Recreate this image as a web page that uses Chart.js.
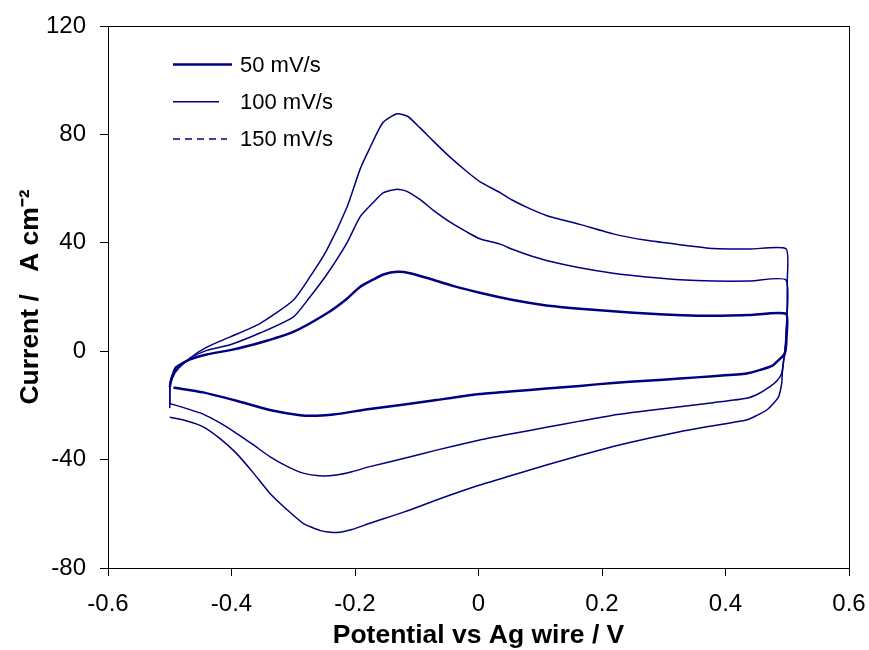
<!DOCTYPE html>
<html>
<head>
<meta charset="utf-8">
<script src="https://cdn.jsdelivr.net/npm/chart.js@4.4.1/dist/chart.umd.min.js"></script>
<style>
  body { margin: 0; background: #fff; }
</style>
</head>
<body>
<canvas id="cv-chart" width="869" height="650"></canvas>
<script>
// cyclic voltammograms (anodic sweep -0.5 -> 0.5 V, then back)
const potential50 = [-0.5, -0.497, -0.49, -0.467, -0.44, -0.402, -0.354, -0.3, -0.246, -0.215, -0.192, -0.17, -0.154, -0.132, -0.111, -0.08, -0.04, 0.002, 0.056, 0.11, 0.164, 0.218, 0.272, 0.33, 0.38, 0.44, 0.498,
  0.499, 0.497, 0.494, 0.485, 0.477, 0.455, 0.434, 0.38, 0.326, 0.272, 0.218, 0.164, 0.11, 0.056, 0.002, -0.068, -0.12, -0.176, -0.235, -0.262, -0.289, -0.338, -0.392, -0.446, -0.494];
const current50 = [-13.3, -10, -6, -3, -1.2, 0.4, 3.1, 7.1, 13.9, 19, 23.7, 26.5, 28.3, 29.3, 28.8, 26.8, 24, 21.6, 18.9, 16.9, 15.7, 14.7, 13.9, 13.3, 13.1, 13.4, 13.8,
  6, 0, -1.5, -3.5, -5.2, -7, -8.2, -9.2, -10.1, -10.9, -11.7, -12.8, -13.8, -14.8, -15.8, -18, -19.7, -21.3, -23.4, -23.8, -23.6, -21.7, -18.3, -15.2, -13.4];

const potential100 = [-0.5, -0.499, -0.49, -0.467, -0.44, -0.402, -0.354, -0.3, -0.273, -0.246, -0.213, -0.192, -0.17, -0.154, -0.132, -0.116, -0.095, -0.073, -0.045, -0.019, 0.002, 0.035, 0.056, 0.083, 0.11, 0.164, 0.218, 0.272, 0.326, 0.38, 0.44, 0.498,
  0.499, 0.497, 0.494, 0.491, 0.483, 0.472, 0.455, 0.434, 0.38, 0.326, 0.272, 0.218, 0.164, 0.11, 0.056, 0.002, -0.068, -0.12, -0.176, -0.205, -0.23, -0.258, -0.284, -0.31, -0.338, -0.365, -0.392, -0.42, -0.446, -0.475, -0.5];
const current100 = [-19.3, -11, -7, -2.6, 0.3, 2.4, 6.7, 12.6, 20, 28.2, 40, 49.5, 55, 58.5, 59.8, 59, 56, 52, 47.5, 44, 41.5, 39.5, 37.5, 35.3, 33.5, 30.8, 28.8, 27.4, 26.4, 25.9, 25.9, 26.3,
  10, 0, -3.5, -8.2, -11, -13.1, -15.5, -17.4, -19, -20.5, -22, -23.6, -25.8, -28.1, -30.4, -32.8, -36.5, -39.5, -42.6, -44.5, -45.7, -46, -45, -42.5, -38.9, -34.5, -30.3, -26.3, -23.2, -21, -19.3];

const potential150 = [-0.5, -0.499, -0.49, -0.467, -0.44, -0.402, -0.354, -0.3, -0.273, -0.246, -0.213, -0.192, -0.178, -0.155, -0.132, -0.115, -0.095, -0.074, -0.046, -0.02, 0.002, 0.035, 0.056, 0.083, 0.11, 0.164, 0.218, 0.272, 0.326, 0.38, 0.44, 0.498,
  0.5, 0.499, 0.496, 0.492, 0.491, 0.486, 0.476, 0.467, 0.45, 0.434, 0.38, 0.326, 0.272, 0.218, 0.164, 0.11, 0.056, 0.002, -0.068, -0.12, -0.176, -0.205, -0.23, -0.256, -0.284, -0.31, -0.338, -0.365, -0.392, -0.42, -0.446, -0.475, -0.5];
const current150 = [-21, -12, -7.5, -2.5, 1.5, 5.3, 10.2, 18.8, 27.4, 37.2, 53.1, 67, 74, 84.3, 87.6, 86.7, 82.5, 77.7, 71.6, 66.5, 62.6, 58.5, 55.6, 52.6, 50.1, 46.8, 43.3, 40.9, 39.3, 37.9, 37.7, 37.8,
  26, 10, 0, -8, -11.9, -16.8, -19.7, -21.7, -23.8, -25.4, -27.5, -29.7, -32.3, -35.2, -38.5, -42, -45.7, -49.4, -54.9, -59.3, -63.5, -65.8, -66.9, -66.2, -63.5, -58.5, -52.4, -44.8, -37.7, -32, -27.9, -25.6, -24.4];

const seriesNames = ['50 mV/s', '100 mV/s', '150 mV/s'];

const lineColor = '#000080';
const fontFamily = '"Liberation Sans", Arial, sans-serif';

function toPoints(xs, ys) {
  return xs.map((x, i) => ({ x: x, y: ys[i] }));
}

// legend drawn inside the plot like the original
const innerLegend = {
  id: 'innerLegend',
  afterDraw(chart) {
    const ctx = chart.ctx;
    const lens = [59, 46, 54];
    ctx.save();
    ctx.font = '22px ' + fontFamily;
    ctx.textBaseline = 'middle';
    chart.data.datasets.forEach((ds, i) => {
      const y = 64.5 + i * 37.3;
      ctx.strokeStyle = ds.borderColor;
      ctx.lineWidth = ds.borderWidth;
      ctx.setLineDash(ds.legendDash || []);
      ctx.beginPath();
      ctx.moveTo(173, y);
      ctx.lineTo(173 + lens[i], y);
      ctx.stroke();
      ctx.setLineDash([]);
      ctx.fillStyle = '#000';
      ctx.fillText(ds.label, 240, y + 1);
    });
    ctx.restore();
  }
};

const plotFrame = {
  id: 'plotFrame',
  afterDraw(chart) {
    const a = chart.chartArea;
    const ctx = chart.ctx;
    ctx.save();
    ctx.strokeStyle = '#000';
    ctx.lineWidth = 1;
    ctx.strokeRect(Math.round(a.left) + 0.5, Math.round(a.top) + 0.5, Math.round(a.right - a.left), Math.round(a.bottom - a.top));
    ctx.restore();
  }
};

const ctx = document.getElementById('cv-chart');

new Chart(ctx, {
  type: 'scatter',
  data: {
    datasets: [{
      label: seriesNames[0],
      data: toPoints(potential50, current50),
      borderColor: lineColor,
      borderWidth: 2.5,
      showLine: true,
      pointRadius: 0,
      tension: 0.2
    }, {
      label: seriesNames[1],
      data: toPoints(potential100, current100),
      borderColor: lineColor,
      borderWidth: 1.5,
      showLine: true,
      pointRadius: 0,
      tension: 0.2
    }, {
      label: seriesNames[2],
      data: toPoints(potential150, current150),
      borderColor: lineColor,
      borderWidth: 1.5,
      legendDash: [7, 5],
      showLine: true,
      pointRadius: 0,
      tension: 0.2
    }]
  },
  options: {
    responsive: false,
    animation: false,
    layout: { padding: { left: 0, right: 20, top: 26, bottom: 0 } },
    plugins: {
      legend: { display: false },
      tooltip: { enabled: false }
    },
    scales: {
      x: {
        type: 'linear',
        min: -0.6,
        max: 0.6,
        afterFit: (scale) => {
          scale.height = 82;
          scale.paddingLeft = 0;
          scale.paddingRight = 0;
        },
        ticks: {
          stepSize: 0.2,
          padding: 14,
          color: '#000',
          font: { family: fontFamily, size: 24 },
          callback: (v) => Math.abs(v) < 1e-9 ? '0' : Number(v).toFixed(1)
        },
        grid: { drawOnChartArea: false, tickLength: 8, color: '#000' },
        border: { color: '#000' },
        title: {
          display: true,
          text: 'Potential vs Ag wire / V',
          color: '#000',
          font: { family: fontFamily, size: 26.5, weight: 'bold' },
          padding: { top: 0, bottom: -2 }
        }
      },
      y: {
        min: -80,
        max: 120,
        afterFit: (scale) => {
          scale.width = 108;
          scale.paddingTop = 0;
          scale.paddingBottom = 0;
        },
        ticks: {
          stepSize: 40,
          padding: 14,
          color: '#000',
          font: { family: fontFamily, size: 24 }
        },
        grid: { drawOnChartArea: false, tickLength: 8, color: '#000' },
        border: { color: '#000' },
        title: {
          display: true,
          text: 'Current /   A cm\u207B\u00B2',
          color: '#000',
          font: { family: fontFamily, size: 26.5, weight: 'bold' },
          padding: { top: 15, bottom: 0 }
        }
      }
    }
  },
  plugins: [innerLegend, plotFrame]
});
</script>
</body>
</html>
